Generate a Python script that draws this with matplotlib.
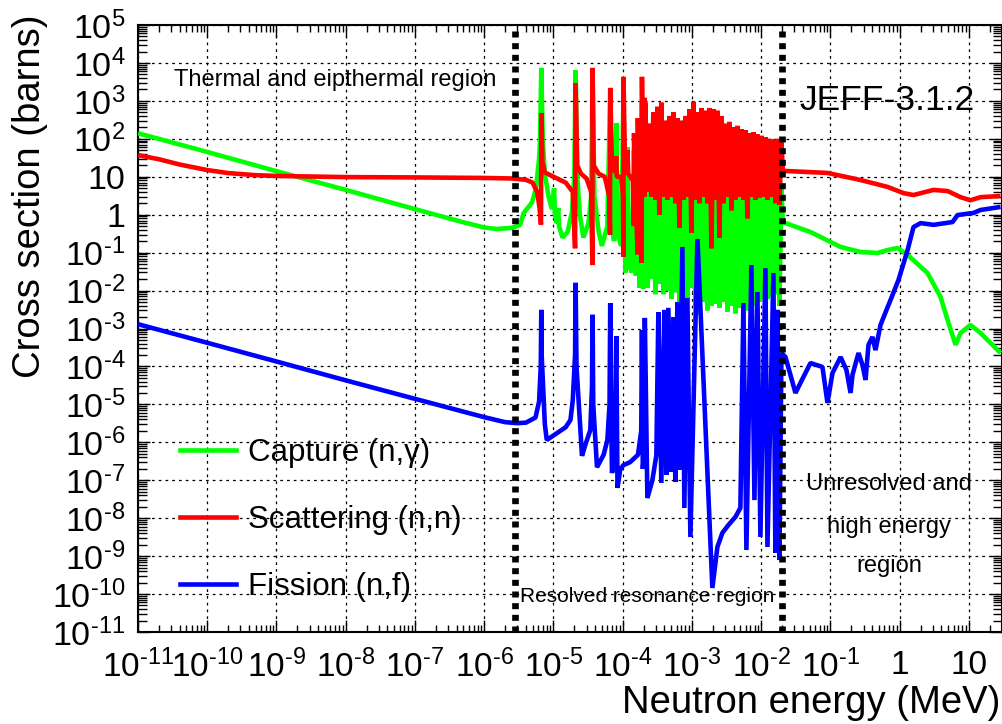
import numpy as np
import matplotlib
matplotlib.use("Agg")
import matplotlib.pyplot as plt
from matplotlib.ticker import LogLocator, FuncFormatter, NullFormatter
from matplotlib.lines import Line2D

# ---------------- data (energies in MeV, cross sections in barns) ----------------
# thermal / epithermal and isolated resonances
red_E_low = [1e-11, 2e-11, 4e-11, 1e-10, 2e-10, 5e-10, 1e-9, 1e-8, 1e-7, 1e-6, 2.5e-6, 4e-6, 5e-6, 5.8e-6,
             6.3e-6, 6.6e-6, 6.7e-6, 6.9e-6, 7.5e-6, 1e-5, 1.5e-5, 1.9e-5, 2.05e-5, 2.09e-5,
             2.2e-5, 2.5e-5, 3e-5, 3.5e-5, 3.65e-5, 3.67e-5, 3.8e-5, 4.5e-5, 5.5e-5, 6.4e-5,
             6.55e-5, 6.6e-5, 7.0e-5, 7.8e-5, 8.05e-5, 8.2e-5, 9.5e-5, 1.01e-4, 1.023e-4,
             1.026e-4, 1.08e-4, 1.16e-4, 1.17e-4, 1.2e-4, 1.4e-4, 1.45e-4, 1.457e-4, 1.5e-4,
             1.64e-4, 1.653e-4, 1.7e-4, 1.88e-4, 1.896e-4, 1.95e-4, 2.05e-4, 2.08e-4, 2.10e-4]
red_s_low = [37, 29, 21, 15, 12.5, 11, 10.5, 9.8, 9.6, 9.3, 9.0, 8.3, 7, 4,
             1.5, 0.55, 480, 25, 13, 10, 7, 4, 0.13, 2950,
             20, 12, 9, 4, 0.047, 7400, 20, 12, 10, 3,
             0.3, 2200, 20, 13, 35, 10, 10, 3, 0.078,
             4300, 17, 12, 50, 12, 8, 0.5, 140, 12,
             0.09, 350, 10, 0.054, 4300, 20, 3, 1200, 5]

green_E_low = [1e-11, 1e-10, 1e-9, 1e-8, 1e-7, 5e-7, 1e-6, 1.5e-6, 2.5e-6, 3.3e-6, 3.7e-6,
               4.9e-6, 5.6e-6, 6.2e-6, 6.4e-6, 6.67e-6, 7.0e-6, 7.5e-6, 8.5e-6, 9.5e-6, 1.02e-5,
               1.05e-5, 1.12e-5, 1.17e-5, 1.2e-5, 1.35e-5, 1.6e-5, 1.85e-5, 2.0e-5, 2.087e-5,
               2.2e-5, 2.4e-5, 2.7e-5, 3.2e-5, 3.5e-5, 3.668e-5, 3.9e-5, 4.5e-5, 5.0e-5, 6.0e-5,
               6.603e-5, 7.0e-5, 7.5e-5, 8.07e-5, 8.5e-5, 9.5e-5, 1.025e-4, 1.1e-4, 1.169e-4,
               1.22e-4, 1.35e-4, 1.457e-4, 1.55e-4, 1.653e-4, 1.75e-4, 1.896e-4, 1.97e-4,
               2.085e-4, 2.10e-4]
green_s_low = [140, 45, 14, 4.5, 1.4, 0.63, 0.46, 0.42, 0.45, 0.54, 1.1,
               2.1, 5, 30, 100, 7400, 100, 12, 3, 1.4, 5,
               1, 0.6, 1.5, 0.5, 0.25, 0.35, 1.2, 10, 6500,
               10, 1, 0.25, 0.6, 3, 5000, 3, 0.35, 0.15, 0.5,
               2000, 0.5, 0.2, 260, 0.3, 0.15, 1500, 0.03, 60,
               0.05, 0.03, 50, 0.025, 30, 0.012, 1000, 0.011,
               300, 0.02]

# dense part of the resolved resonance region (shared energy grid)
E_dense = [2.12e-4, 2.27e-4, 2.42e-4, 2.59e-4, 2.77e-4, 2.96e-4, 3.16e-4, 3.38e-4, 3.61e-4, 3.86e-4,
           4.13e-4, 4.42e-4, 4.71e-4, 5.04e-4, 5.38e-4, 5.75e-4, 6.15e-4, 6.58e-4, 7.03e-4, 7.52e-4,
           8.04e-4, 8.59e-4, 9.17e-4, 9.80e-4, 1.05e-3, 1.12e-3, 1.20e-3, 1.28e-3, 1.37e-3, 1.46e-3,
           1.56e-3, 1.67e-3, 1.78e-3, 1.91e-3, 2.04e-3, 2.18e-3, 2.33e-3, 2.49e-3, 2.66e-3, 2.84e-3,
           3.04e-3, 3.25e-3, 3.47e-3, 3.71e-3, 3.96e-3, 4.24e-3, 4.53e-3, 4.84e-3, 5.18e-3, 5.53e-3,
           5.92e-3, 6.32e-3, 6.75e-3, 7.21e-3, 7.71e-3, 8.24e-3, 8.81e-3, 9.42e-3, 1.01e-2, 1.08e-2,
           1.15e-2, 1.23e-2, 1.31e-2, 1.40e-2, 1.50e-2, 1.60e-2, 1.71e-2, 1.83e-2, 1.96e-2]
red_s_dense = [900, 4, 250, 3, 500, 2.5, 700, 1.0, 900, 3,
               300, 2.5, 400, 3, 500, 2, 350, 0.45, 300, 2.5,
               400, 3, 600, 0.33, 950, 2.5, 500, 2, 650, 3,
               550, 2, 650, 0.13, 600, 2.5, 550, 0.25, 400, 2,
               250, 3, 280, 1.3, 200, 2.5, 220, 3, 180, 2.5,
               170, 0.8, 140, 3, 150, 2.5, 130, 2.8, 120, 3,
               110, 2.5, 100, 3, 95, 2, 100, 1.8, 80]
green_s_dense = [150, 0.012, 40, 0.02, 100, 0.008, 200, 0.015, 60, 0.008,
                 30, 0.01, 50, 0.006, 80, 0.009, 40, 0.005, 30, 0.007,
                 40, 0.005, 60, 0.012, 50, 0.004, 40, 0.0023, 30, 0.005,
                 40, 0.003, 30, 0.004, 25, 0.0045, 30, 0.0035, 20, 0.005,
                 15, 0.0028, 20, 0.004, 12, 0.0025, 15, 0.0035, 10, 0.0023,
                 12, 0.003, 10, 0.0028, 8, 0.004, 9, 0.005, 8, 0.006,
                 7, 0.006, 7, 0.007, 6, 0.008, 6, 0.004, 5]

# unresolved and high-energy region
red_E_high = [2.05e-2, 2.24e-2, 9.05e-2, 0.272, 0.667, 1.135, 1.58, 3.08, 4.91, 7.56, 10.5, 14.7, 28.6]
red_s_high = [14.5, 14.2, 12.6, 8.2, 5.4, 3.7, 3.3, 4.5, 4.2, 2.9, 2.4, 2.9, 3.1]
green_E_high = [2.05e-2, 2.24e-2, 5.14e-2, 0.140, 0.272, 0.478, 0.667, 0.929, 1.30, 2.52, 3.89,
                4.91, 6.40, 7.56, 10.5, 14.7, 28.6]
green_s_high = [0.62, 0.60, 0.35, 0.141, 0.104, 0.098, 0.117, 0.132, 0.087, 0.029, 6.8e-3,
                1.68e-3, 3.7e-4, 7.6e-4, 1.24e-3, 7.6e-4, 2.26e-4]

# fission
blue_E_low = [1e-11, 1e-10, 1e-9, 1e-8, 1e-7, 1e-6, 2e-6, 3e-6, 4e-6, 5.5e-6,
              6.2e-6, 6.55e-6, 6.67e-6, 6.75e-6, 7.5e-6, 8.0e-6, 1.5e-5, 1.76e-5, 1.9e-5, 2.05e-5,
              2.087e-5, 2.15e-5, 2.58e-5, 2.88e-5, 3.4e-5, 3.6e-5, 3.668e-5, 3.75e-5, 4.25e-5, 5.3e-5,
              6.0e-5, 6.45e-5, 6.603e-5, 6.75e-5, 7.0e-5, 7.6e-5, 8.07e-5, 8.4e-5, 9.2e-5, 1.02e-4,
              1.28e-4, 1.66e-4, 1.85e-4, 1.896e-4, 1.95e-4, 2.03e-4, 2.085e-4]
blue_s_low = [1.3e-3, 4.2e-4, 1.35e-4, 4.3e-5, 1.4e-5, 4.6e-6, 3.4e-6, 3.2e-6, 3.3e-6, 4.5e-6,
              1.2e-5, 1e-4, 3.1e-3, 2e-4, 3e-6, 1.15e-6, 2.5e-6, 3.9e-6, 1.3e-5, 2e-4,
              1.6e-2, 1e-4, 4.4e-7, 8.5e-7, 2.1e-6, 3e-5, 2.3e-3, 1e-5, 2.2e-7, 4.7e-7,
              1.15e-6, 1e-5, 4.7e-3, 1e-5, 1.55e-7, 3.4e-7, 6.3e-4, 6.3e-8, 1.9e-7, 2.5e-7,
              3e-7, 4.7e-7, 2e-6, 9e-4, 2e-7, 5e-7, 1.9e-3]
blue_E_dense = [2.27e-4, 2.68e-4, 3.06e-4, 3.27e-4, 3.61e-4, 3.99e-4, 4.27e-4, 4.56e-4, 5.04e-4, 5.38e-4,
                5.75e-4, 6.15e-4, 6.58e-4, 7.27e-4, 7.76e-4, 8.59e-4, 9.48e-4, 1.20e-3, 1.97e-3, 2.33e-3,
                2.75e-3, 3.36e-3, 4.24e-3, 5.0e-3, 5.53e-3, 6.11e-3, 7.21e-3, 7.98e-3, 8.81e-3, 9.73e-3,
                1.15e-2, 1.23e-2, 1.50e-2, 1.60e-2, 1.71e-2, 1.83e-2, 1.96e-2]
blue_s_dense = [3.4e-8, 1e-7, 4.6e-7, 2.7e-3, 8.5e-8, 3.1e-3, 1.38e-7, 3.5e-3, 1.65e-7, 2.0e-3,
                9e-8, 5e-3, 1.87e-7, 0.141, 1.86e-8, 6.4e-3, 3.2e-9, 0.229, 1.45e-10, 1.74e-9,
                4.1e-9, 6.6e-9, 1.08e-8, 1.86e-8, 4.7e-3, 1.45e-9, 0.047, 3e-8, 9.2e-3, 3.2e-9,
                0.039, 1.74e-9, 0.029, 1.21e-9, 3.1e-3, 7.9e-10, 2.26e-4]
blue_E_high = [2.24e-2, 3.12e-2, 5.14e-2, 7.66e-2, 9.05e-2, 0.107, 0.140, 0.170, 0.195, 0.208,
               0.254, 0.290, 0.321, 0.354, 0.404, 0.447, 0.528, 0.645, 0.736, 0.96,
               1.30, 1.58, 2.0, 3.08, 5.8, 6.84, 11.6, 14.7, 28.6]
blue_s_high = [1.77e-4, 2e-5, 1.23e-4, 9.7e-5, 1.09e-5, 6.7e-5, 1.77e-4, 8.1e-5, 2e-5, 6e-5,
               2.26e-4, 1.09e-4, 4.4e-5, 3.7e-4, 6e-4, 2.7e-4, 1.24e-3, 3.1e-3, 5.6e-3, 0.019,
               0.117, 0.47, 0.60, 0.54, 0.64, 0.98, 1.11, 1.33, 1.6]

region_bounds = [2.8e-6, 2.0e-2]
labels = ["Capture (n,\u03b3)", "Scattering (n,n)", "Fission (n,f)"]

# ---------------- figure ----------------
plt.rcParams['font.family'] = ['Liberation Sans', 'DejaVu Sans']
plt.rcParams['mathtext.fontset'] = 'custom'
plt.rcParams['mathtext.rm'] = 'Liberation Sans'
plt.rcParams['mathtext.it'] = 'Liberation Sans:italic'
plt.rcParams['mathtext.bf'] = 'Liberation Sans:bold'

W, H = 1003, 724
fig = plt.figure(figsize=(W / 100, H / 100), dpi=100)
ax = fig.add_axes([138 / W, 1 - 632 / H, (1002 - 138) / W, (632 - 25) / H])
ax.set_xscale('log')
ax.set_yscale('log')
ax.set_xlim(1e-11, 30)
ax.set_ylim(1e-11, 1e5)

lw = 3.3
kw = dict(lw=lw, solid_joinstyle='bevel', solid_capstyle='butt')
lg, = ax.plot(green_E_low + E_dense + green_E_high, green_s_low + green_s_dense + green_s_high,
              color='#00ff00', zorder=3, **kw)
lr, = ax.plot(red_E_low + E_dense + red_E_high, red_s_low + red_s_dense + red_s_high,
              color='#ff0000', zorder=4, **kw)
lb, = ax.plot(blue_E_low + blue_E_dense + blue_E_high, blue_s_low + blue_s_dense + blue_s_high,
              color='#0000ff', zorder=5, **kw)

for xb in region_bounds:
    ax.axvline(xb, color='black', lw=4.8, linestyle=(0, (0.9, 0.85)), zorder=10)

# ticks
def fmt(v, pos):
    e = int(round(np.log10(v)))
    if e == 0:
        return '1'
    if e == 1:
        return '10'
    s = str(e).replace('-', '\u2010')
    return r'$\mathregular{10^{%s}}$' % s

for axis in (ax.xaxis, ax.yaxis):
    axis.set_major_locator(LogLocator(base=10, numticks=40))
    axis.set_minor_locator(LogLocator(base=10, subs=np.arange(2, 10), numticks=40))
    axis.set_major_formatter(FuncFormatter(fmt))
    axis.set_minor_formatter(NullFormatter())

ax.tick_params(which='both', direction='in', top=True, right=True)
ax.tick_params(axis='y', labelsize=24.5)
ax.tick_params(axis='x', labelsize=24)
ax.tick_params(which='major', length=12 / 1.389, width=1.0)
ax.tick_params(axis='x', which='minor', length=7 / 1.389, width=1.0)
ax.tick_params(axis='y', which='minor', length=9 / 1.389, width=1.0)
ax.tick_params(axis='y', which='major', pad=9)
ax.tick_params(axis='x', which='major', pad=13)
for s in ax.spines.values():
    s.set_linewidth(1.5)

ax.grid(True, which='major', color='black', linestyle=(0, (2.2, 3.2)), linewidth=0.9)
ax.set_axisbelow(True)

# texts
def px(x, y):
    return x / W, 1 - y / H

fig.text(*px(335, 80), 'Thermal and eipthermal region', ha='center', va='center', fontsize=17)
fig.text(*px(887, 100), 'JEFF-3.1.2', ha='center', va='center', fontsize=25.5)
fig.text(*px(647, 596), 'Resolved resonance region', ha='center', va='center', fontsize=15, zorder=20)
fig.text(*px(889, 484), 'Unresolved and', ha='center', va='center', fontsize=17)
fig.text(*px(889, 527), 'high energy', ha='center', va='center', fontsize=17)
fig.text(*px(889, 566), 'region', ha='center', va='center', fontsize=17)

fig.text(*px(1000, 703), 'Neutron energy (MeV)', ha='right', va='center', fontsize=27.5)
fig.text(*px(30, 15), 'Cross section (barns)', ha='center', va='top', rotation=90, fontsize=27.5)

handles = [Line2D([], [], color='#00ff00', lw=lw),
           Line2D([], [], color='#ff0000', lw=lw),
           Line2D([], [], color='#0000ff', lw=lw)]
leg = ax.legend(handles, labels, loc='center left', bbox_to_anchor=px(180, 520),
                bbox_transform=fig.transFigure, frameon=False, fontsize=22.5,
                handlelength=1.8, handletextpad=0.38, labelspacing=1.18,
                borderpad=0, borderaxespad=0)

fig.savefig('out.png', dpi=100)
